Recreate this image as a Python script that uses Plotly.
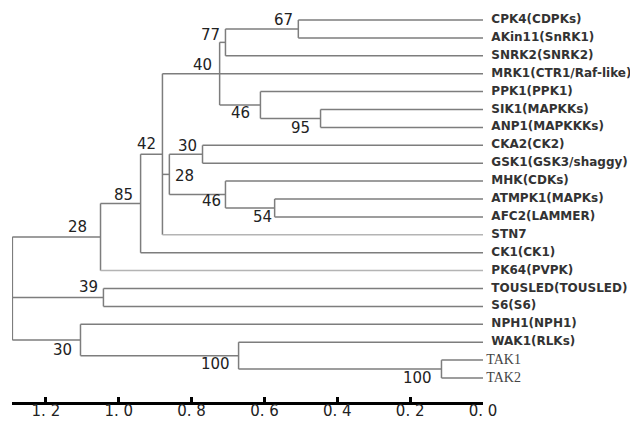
import plotly.graph_objects as go

# ---------------- data ----------------
leaf_names = ["CPK4(CDPKs)", "AKin11(SnRK1)", "SNRK2(SNRK2)", "MRK1(CTR1/Raf-like)",
              "PPK1(PPK1)", "SIK1(MAPKKs)", "ANP1(MAPKKKs)", "CKA2(CK2)",
              "GSK1(GSK3/shaggy)", "MHK(CDKs)", "ATMPK1(MAPKs)", "AFC2(LAMMER)",
              "STN7", "CK1(CK1)", "PK64(PVPK)", "TOUSLED(TOUSLED)", "S6(S6)",
              "NPH1(NPH1)", "WAK1(RLKs)", "TAK1", "TAK2"]

node_names = ["root", "n85", "n42", "n162", "n40", "n77", "n67", "n46a", "n95",
              "n28b", "n30a", "n46b", "n54", "n39", "n30b", "n100a", "n100b"]
node_heights = [1.292, 1.050, 0.940, 0.880, 0.723, 0.707, 0.507, 0.611, 0.446,
                0.861, 0.770, 0.707, 0.572, 1.042, 1.105, 0.671, 0.114]
node_support = ["28", "85", "42", "", "40", "77", "67", "46", "95",
                "28", "30", "46", "54", "39", "30", "100", "100"]
node_children = [
    ["n85", "n39", "n30b"],
    ["n42", "PK64(PVPK)"],
    ["n162", "CK1(CK1)"],
    ["n40", "n28b", "STN7"],
    ["n77", "MRK1(CTR1/Raf-like)", "n46a"],
    ["n67", "SNRK2(SNRK2)"],
    ["CPK4(CDPKs)", "AKin11(SnRK1)"],
    ["PPK1(PPK1)", "n95"],
    ["SIK1(MAPKKs)", "ANP1(MAPKKKs)"],
    ["n30a", "n46b"],
    ["CKA2(CK2)", "GSK1(GSK3/shaggy)"],
    ["MHK(CDKs)", "n54"],
    ["ATMPK1(MAPKs)", "AFC2(LAMMER)"],
    ["TOUSLED(TOUSLED)", "S6(S6)"],
    ["NPH1(NPH1)", "n100a"],
    ["WAK1(RLKs)", "n100b"],
    ["TAK1", "TAK2"],
]
light_leaves = ["STN7", "PK64(PVPK)"]
serif_leaves = ["TAK1", "TAK2"]

scale_ticks = [1.2, 1.0, 0.8, 0.6, 0.4, 0.2, 0.0]
scale_labels = ["1. 2", "1. 0", "0. 8", "0. 6", "0. 4", "0. 2", "0. 0"]

# label placement (style): reference child ('top','bottom','mid') and pixel shifts
label_ref = ["top", "top", "top", "mid", "mid", "top", "top", "bottom", "bottom",
             "mid", "top", "bottom", "bottom", "top", "bottom", "bottom", "bottom"]
label_dx = [65, 23, 6, 0, -17, -15, -15, -20, -20, 15, -15, -14, -12, -15, -18, -23, -24]
label_dy = [-10, -8.5, -10, 0, -9, 6, 0, -5.5, 1, 2, 1, -7, 0, -1.5, -5.5, -5, 0]

# ---------------- tree layout ----------------
height = {n: h for n, h in zip(node_names, node_heights)}
children = {n: c for n, c in zip(node_names, node_children)}
ypos = {n: i for i, n in enumerate(leaf_names)}
for n in leaf_names:
    height[n] = 0.0


def compute_y(n):
    if n in ypos:
        return ypos[n]
    ys = [compute_y(c) for c in children[n]]
    ypos[n] = (min(ys) + max(ys)) / 2
    return ypos[n]


compute_y("root")

dark_x, dark_y, light_x, light_y = [], [], [], []
for n in node_names:
    cys = [ypos[c] for c in children[n]]
    dark_x += [height[n], height[n], None]
    dark_y += [min(cys), max(cys), None]
    for c in children[n]:
        if c in light_leaves:
            light_x += [height[n], height[c], None]
            light_y += [ypos[c], ypos[c], None]
        else:
            dark_x += [height[n], height[c], None]
            dark_y += [ypos[c], ypos[c], None]

fig = go.Figure()
fig.add_trace(go.Scatter(x=dark_x, y=dark_y, mode="lines",
                         line=dict(color="#7d7d7d", width=1.5),
                         hoverinfo="skip", cliponaxis=False))
fig.add_trace(go.Scatter(x=light_x, y=light_y, mode="lines",
                         line=dict(color="#b4b4b4", width=1.5),
                         hoverinfo="skip", cliponaxis=False))

sans = [n for n in leaf_names if n not in serif_leaves]
fig.add_trace(go.Scatter(x=[height[n] for n in sans], y=[ypos[n] for n in sans],
                         mode="text", text=["  " + n for n in sans],
                         textposition="middle right",
                         textfont=dict(family="DejaVu Sans", size=12, color="#333333",
                                       weight="bold"),
                         hoverinfo="skip", cliponaxis=False))
fig.add_trace(go.Scatter(x=[height[n] for n in serif_leaves],
                         y=[ypos[n] for n in serif_leaves],
                         mode="text", text=[" " + n for n in serif_leaves],
                         textposition="middle right",
                         textfont=dict(family="Liberation Serif", size=14, color="#444444"),
                         hoverinfo="skip", cliponaxis=False))

for n, s, ref, dx, dy in zip(node_names, node_support, label_ref, label_dx, label_dy):
    if not s:
        continue
    cys = [ypos[c] for c in children[n]]
    yref = {"top": min(cys), "bottom": max(cys), "mid": ypos[n]}[ref]
    fig.add_annotation(x=height[n], y=yref, text=s, showarrow=False,
                       xanchor="center", yanchor="middle",
                       xshift=dx, yshift=-dy,
                       font=dict(family="DejaVu Sans", size=15, color="#222222"))

# page body has an 8px default margin; size the figure to fit the 638x421 window
fig.update_layout(
    width=630, height=413,
    margin=dict(l=4, r=155, t=0, b=19),
    paper_bgcolor="white", plot_bgcolor="white",
    showlegend=False,
    xaxis=dict(range=[1.293, 0], showgrid=False, zeroline=False,
               showline=True, linecolor="black", linewidth=3,
               tickvals=scale_ticks, ticktext=scale_labels,
               ticks="inside", ticklen=5, tickwidth=3, tickcolor="black",
               ticklabelstandoff=-7,
               tickfont=dict(family="DejaVu Sans", size=15, color="#222222"),
               automargin=False, fixedrange=True),
    yaxis=dict(range=[21.34, -0.670], visible=False, fixedrange=True),
)

fig.write_html("out.html")
